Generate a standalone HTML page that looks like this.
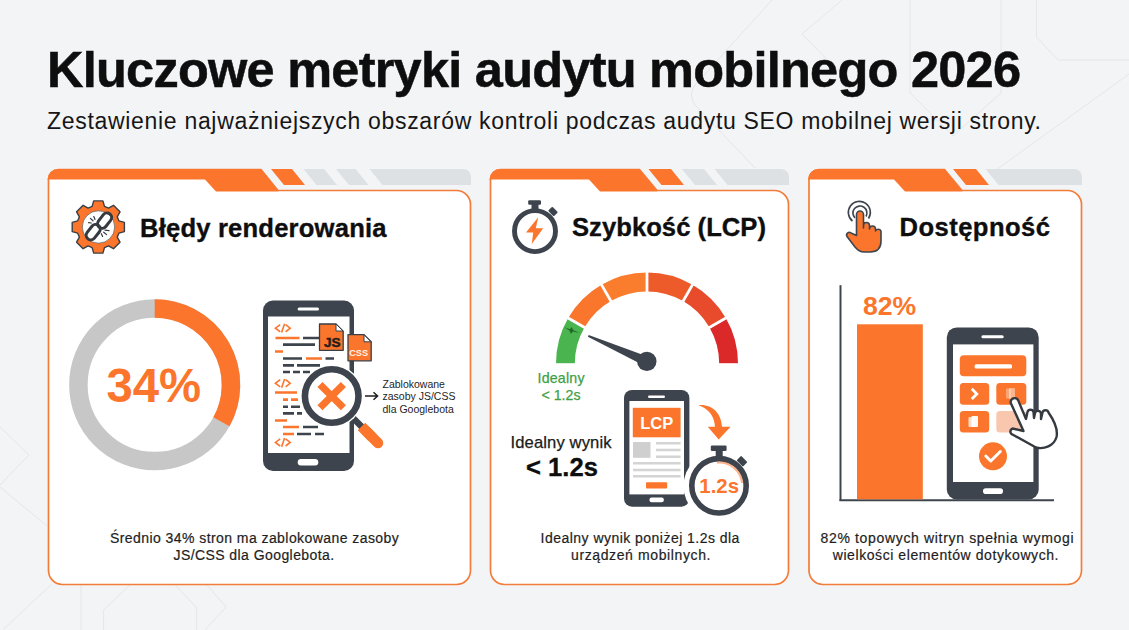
<!DOCTYPE html>
<html><head><meta charset="utf-8"><title>Kluczowe metryki audytu mobilnego 2026</title>
<style>
html,body{margin:0;padding:0;background:#f3f4f6;width:1129px;height:630px;overflow:hidden}
svg{display:block;font-family:"Liberation Sans",sans-serif}
</style></head><body>
<svg width="1129" height="630" viewBox="0 0 1129 630">
<rect width="1129" height="630" fill="#f3f4f6"/>
<!-- background faint lines -->
<g fill="none" stroke="#e4e6e9" stroke-width="1">
<path d="M772,0 L695,85 Q688,95 695,105 L755,168"/>
<path d="M842,0 L802,34 L860,93"/>
<path d="M910,0 V93 L953,136"/>
<path d="M1001,0 V93 L953,136"/>
<path d="M1036.5,0 V37 L1058,60 H1129"/>
<path d="M1129,74 L996,170"/>
<path d="M0,427 L29,455 L0,485"/>
<path d="M0,487 L47,526"/>
<path d="M2.7,630 L51.8,584"/>
<path d="M81,585 V630"/>
<path d="M103.6,630 V610 L130,585"/>
<path d="M175.4,585 L196.7,608 V630"/>
<path d="M207,585 L226,607 L205,630"/>
</g>

<!-- Title -->
<text x="47" y="87.2" font-size="50.5" font-weight="700" fill="#0e0e0e" textLength="974" lengthAdjust="spacing" stroke="#0e0e0e" stroke-width="0.5">Kluczowe metryki audytu mobilnego 2026</text>
<text x="47" y="128.7" font-size="23" fill="#161616" textLength="994" lengthAdjust="spacing">Zestawienie najważniejszych obszarów kontroli podczas audytu SEO mobilnej wersji strony.</text>

<!-- ============ CARD 1 ============ -->
<g>
<path d="M48.5,179 A10,10 0 0 1 58.5,169.5 H261 L278,190.5 H456.5 A14,14 0 0 1 470.5,204.5 V570.5 A14,14 0 0 1 456.5,584.5 H62.5 A14,14 0 0 1 48.5,570.5 Z" fill="#ffffff" stroke="#f27d3a" stroke-width="1.7"/>
<path d="M47.5,179.5 A10.5,10.5 0 0 1 58,169 H261 L278.5,191.5 H216 L205,179.5 Z" fill="#fb762c"/>
<path d="M271,169 H292 L305,185 H284 Z" fill="#fb762c"/>
<path d="M303.5,169 H324 L337,185 H316.5 Z" fill="#dde1e4"/>
<path d="M336,169 H355.5 L368.5,185 H349 Z" fill="#dde1e4"/>
<path d="M369.5,169 H463 A8,8 0 0 1 471,177 V185 H382.5 Z" fill="#dde1e4"/>

<!-- gear icon -->
<path d="M92.1,206.4 L93.7,200.9 L102.9,200.9 L104.5,206.4 L108.5,208.1 L113.5,205.3 L120.0,211.8 L117.2,216.8 L118.9,220.8 L124.4,222.4 L124.4,231.6 L118.9,233.2 L117.2,237.2 L120.0,242.2 L113.5,248.7 L108.5,245.9 L104.5,247.6 L102.9,253.1 L93.7,253.1 L92.1,247.6 L88.1,245.9 L83.1,248.7 L76.6,242.2 L79.4,237.2 L77.7,233.2 L72.2,231.6 L72.2,222.4 L77.7,220.8 L79.4,216.8 L76.6,211.8 L83.1,205.3 L88.1,208.1Z" fill="#fb762c" stroke="#3a3f46" stroke-width="1.4" stroke-linejoin="round"/>
<circle cx="98.5" cy="227" r="16.2" fill="#ffffff" stroke="#3a3f46" stroke-width="0.6"/>
<g stroke="#353a41" fill="none" stroke-linecap="round">
<rect x="-8.5" y="-4.6" width="17" height="9.2" rx="4.6" transform="translate(104.6,220.6) rotate(-52)" stroke-width="3"/>
<rect x="-8.5" y="-4.6" width="17" height="9.2" rx="4.6" transform="translate(93.2,232.2) rotate(-52)" stroke-width="3"/>
<path d="M88.5,222.6 L91.3,223 M90.4,218.4 L93,220.8 M93.8,216.5 L95,219.4" stroke-width="1.2"/>
<path d="M105,230.2 L109,230.6 M103.7,232.2 L106.6,234.6 M101.3,233.7 L102.6,236.5" stroke-width="1.2"/>
</g>
<text x="140" y="236.6" font-size="25.6" font-weight="700" fill="#0e0e0e" textLength="246.5" lengthAdjust="spacing" stroke="#0e0e0e" stroke-width="0.35">Błędy renderowania</text>

<!-- donut -->
<circle cx="154.7" cy="384.8" r="76.3" fill="none" stroke="#c7c7c7" stroke-width="18.5"/>
<path d="M154.7,308.5 A76.3,76.3 0 0 1 221.4,421.8" fill="none" stroke="#fb762c" stroke-width="18.5"/>
<text x="106.5" y="401.6" font-size="47.3" font-weight="700" fill="#fb762c">34%</text>

<!-- phone 1 -->
<rect x="263" y="300.5" width="91" height="170.5" rx="10" fill="#3e444d"/>
<rect x="268" y="316.5" width="81.5" height="136.5" fill="#ffffff"/>
<rect x="297.6" y="307.4" width="21.4" height="3" rx="1.5" fill="#ffffff"/>
<rect x="297.7" y="459" width="20.6" height="6.5" rx="3.2" fill="#ffffff"/>
<path d="M280.2,324.6 L275.4,328.2 L280.2,331.8 M284.6,323.8 L281.6,332.6 M285.6,324.6 L290.2,328.2 L285.6,331.8 M280.2,379.7 L275.4,383.3 L280.2,386.9 M284.6,378.9 L281.6,387.7 M285.6,379.7 L290.2,383.3 L285.6,386.9 M280.2,438.8 L275.4,442.4 L280.2,446.0 M284.6,438.0 L281.6,446.8 M285.6,438.8 L290.2,442.4 L285.6,446.0" fill="none" stroke="#fb762c" stroke-width="1.6" stroke-linejoin="miter"/>
<g stroke-width="2.6" stroke-linecap="butt">
<path d="M275.5,338 H299.5 M283,351.5 H275 M306,358.5 H322 M275,392.5 H297 M283,399.6 H288 M291,399.6 H298 M275,420.5 H287 M283,427 H299 M283,434 H294" stroke="#fb762c"/>
<path d="M303,338 H320 M283,344.6 H315 M283,358.5 H302 M325.5,358.5 H334 M283,365.4 H294 M297,365.4 H320 M283,372 H290 M293,372 H300 M303,372 H310 M283,406.7 H288 M291,406.7 H300 M283,413.4 H294 M297,413.4 H302 M303,427 H318 M297,434 H311 M315,434 H324" stroke="#3e444d"/>
</g>
<!-- JS / CSS file icons -->
<path d="M319.5,324 H336 L343.2,331.2 V350.3 H319.5 Z" fill="#fb762c" stroke="#3a3f46" stroke-width="1.3" stroke-linejoin="round"/>
<path d="M336,324 L343,331 H336 Z" fill="#ffffff" stroke="#3a3f46" stroke-width="1" stroke-linejoin="round"/>
<text x="324" y="346.7" font-size="13.6" font-weight="700" fill="#2a1d18" stroke="#2a1d18" stroke-width="0.5">JS</text>
<path d="M348,334.6 H364 L371.2,341.8 V360.8 H348 Z" fill="#fb762c" stroke="#3a3f46" stroke-width="1.3" stroke-linejoin="round"/>
<path d="M364,334.8 L371,341.8 H364 Z" fill="#ffffff" stroke="#3a3f46" stroke-width="1" stroke-linejoin="round"/>
<text x="349.2" y="355.5" font-size="9.2" font-weight="700" fill="#fdf1e0">CSS</text>
<!-- magnifier -->
<line x1="350" y1="415" x2="363" y2="428" stroke="#3e444d" stroke-width="6.5"/>
<line x1="361.5" y1="426.5" x2="372" y2="437" stroke="#fb762c" stroke-width="10.5"/>
<line x1="366" y1="431" x2="378" y2="443" stroke="#fb762c" stroke-width="10.5" stroke-linecap="round"/>
<circle cx="331.7" cy="396" r="31.5" fill="#ffffff"/>
<circle cx="331.7" cy="396" r="26.8" fill="#ffffff" stroke="#3e444d" stroke-width="6.6"/>
<path d="M320,384.5 L343.4,407.8 M343.4,384.5 L320,407.8" stroke="#fb762c" stroke-width="7.2"/>
<!-- arrow + label -->
<path d="M365,396 H377.5 M373.5,392.3 L377.6,396 L373.5,399.7" stroke="#1e1e1e" stroke-width="1.5" fill="none"/>
<g font-size="10.5" fill="#1e1e1e">
<text x="382.5" y="387.5">Zablokowane</text>
<text x="382.5" y="400">zasoby JS/CSS</text>
<text x="382.5" y="412.5">dla Googlebota</text>
</g>
<g font-size="14" fill="#1e1e1e" stroke="#1e1e1e" stroke-width="0.2">
<text x="110" y="543.4" textLength="288.8" lengthAdjust="spacing">Średnio 34% stron ma zablokowane zasoby</text>
<text x="173.5" y="560" textLength="160.7" lengthAdjust="spacing">JS/CSS dla Googlebota.</text>
</g>
</g>

<!-- ============ CARD 2 ============ -->
<g>
<path d="M490.5,179 A10,10 0 0 1 500.5,169.5 H639.5 L657,190.5 H774.5 A14,14 0 0 1 788.5,204.5 V570.5 A14,14 0 0 1 774.5,584.5 H504.5 A14,14 0 0 1 490.5,570.5 Z" fill="#ffffff" stroke="#f27d3a" stroke-width="1.7"/>
<path d="M489.5,179.5 A10.5,10.5 0 0 1 500,169 H639.5 L657.5,191.5 H600 L589,179.5 Z" fill="#fb762c"/>
<path d="M648.5,169 H671 L684,185 H661.5 Z" fill="#fb762c"/>
<path d="M682,169 H704 L717,185 H695 Z" fill="#dde1e4"/>
<path d="M714.5,169 H781 A8,8 0 0 1 789,177 V185 H727.5 Z" fill="#dde1e4"/>

<!-- stopwatch icon -->
<rect x="528.2" y="200.2" width="12.8" height="4.6" rx="1.2" fill="#3e444d"/>
<rect x="531.5" y="204" width="7" height="6" fill="#3e444d"/>
<rect x="549" y="208.5" width="8" height="6" rx="1" fill="#3e444d" transform="rotate(45 553 211.5)"/>
<circle cx="535" cy="231.1" r="20.5" fill="none" stroke="#3e444d" stroke-width="4.9"/>
<path d="M538.2,217.2 L526,232.5 H533.2 L531.8,244 L543.2,228.3 H535.8 Z" fill="#fb762c"/>
<text x="572" y="236" font-size="25.6" font-weight="700" fill="#0e0e0e" textLength="194" lengthAdjust="spacing" stroke="#0e0e0e" stroke-width="0.35">Szybkość (LCP)</text>

<!-- gauge -->
<g fill="none" stroke-width="18.8">
<path d="M565.40,363.60 A81.6,81.6 0 0 1 576.33,322.80" stroke="#4ab54e"/>
<path d="M576.33,322.80 A81.6,81.6 0 0 1 606.20,292.93" stroke="#f9762c"/>
<path d="M606.20,292.93 A81.6,81.6 0 0 1 647.00,282.00" stroke="#fa7d2d"/>
<path d="M647.00,282.00 A81.6,81.6 0 0 1 687.80,292.93" stroke="#ee5b2a"/>
<path d="M687.80,292.93 A81.6,81.6 0 0 1 717.67,322.80" stroke="#e84a2c"/>
<path d="M717.67,322.80 A81.6,81.6 0 0 1 728.60,363.60" stroke="#db2828"/>
</g>
<g stroke="#ffffff" stroke-width="2.8">
<line x1="585.86" y1="328.30" x2="566.81" y2="317.30"/>
<line x1="611.70" y1="302.46" x2="600.70" y2="283.41"/>
<line x1="647.00" y1="293.00" x2="647.00" y2="271.00"/>
<line x1="682.30" y1="302.46" x2="693.30" y2="283.41"/>
<line x1="708.14" y1="328.30" x2="727.19" y2="317.30"/>
</g>
<rect x="550" y="363.4" width="200" height="4" fill="#ffffff"/>
<path d="M564.5,327.3 L570,329.3 L571.5,327 L573.5,330.3 L579.5,333 L572.8,331.6 L571,334 L569.3,330.6 Z" fill="#1f6a2b"/>
<path d="M588.70,334.88 L648.76,356.91 L644.84,365.89 L587.90,336.72 Z" fill="#3e444d"/>
<circle cx="646.8" cy="361.4" r="9.7" fill="#3e444d"/>
<g font-size="14.2" fill="#3f9f45" stroke="#3f9f45" stroke-width="0.25">
<text x="537.5" y="383" textLength="47" lengthAdjust="spacing">Idealny</text>
<text x="541.5" y="400.2" textLength="39" lengthAdjust="spacing">&lt; 1.2s</text>
</g>
<text x="510.5" y="447.7" font-size="16.6" fill="#1a1a1a" stroke="#1a1a1a" stroke-width="0.25" textLength="101" lengthAdjust="spacing">Idealny wynik</text>
<text x="526" y="475.6" font-size="25.6" font-weight="700" fill="#0e0e0e" stroke="#0e0e0e" stroke-width="0.3">&lt; 1.2s</text>

<!-- phone 2 -->
<rect x="624" y="390" width="65.4" height="116.7" rx="8" fill="#3e444d"/>
<rect x="629.4" y="401" width="54.6" height="93.4" fill="#ffffff"/>
<rect x="648" y="395.5" width="17" height="2.6" rx="1.3" fill="#ffffff"/>
<rect x="649.4" y="497.6" width="14.5" height="4.6" rx="2.3" fill="#ffffff"/>
<rect x="632.8" y="407.8" width="47.8" height="29.5" fill="#fb762c"/>
<text x="656.7" y="429" font-size="16.5" font-weight="700" fill="#ffffff" text-anchor="middle">LCP</text>
<rect x="633" y="442" width="17.5" height="15.8" fill="#cfcfcf"/>
<g stroke="#d4d4d4" stroke-width="2.6">
<path d="M656,443.3 H680.6 M656,450 H680.6 M656,456.7 H680.6 M633,463.3 H680.6 M633,470 H680.6 M633,476.3 H680.6"/>
</g>
<rect x="646" y="482.2" width="21.2" height="6.2" rx="1" fill="#fb762c"/>
<!-- curved arrow -->
<path d="M698.5,405.2 C712,404 721.5,413 722,427.5 L715,427.5 C714.5,416 709,409 698.5,405.2 Z" fill="#fb762c"/>
<path d="M707.8,426.7 H730.6 L718.7,439.6 Z" fill="#fb762c"/>
<!-- stopwatch 2 -->
<circle cx="719" cy="486" r="35.5" fill="#ffffff"/>
<rect x="710.8" y="445.6" width="15.8" height="5.4" rx="1.2" fill="#3e444d"/>
<rect x="715.7" y="450" width="7" height="8" fill="#3e444d"/>
<rect x="737.5" y="458" width="9" height="6.5" rx="1" fill="#3e444d" transform="rotate(45 742 461.25)"/>
<circle cx="719" cy="485.8" r="27.2" fill="#ffffff" stroke="#3e444d" stroke-width="5.6"/>
<path d="M717,462.6 A23.2,23.2 0 0 1 742.2,483" fill="none" stroke="#fb762c" stroke-width="2.2" opacity="0.55"/>
<text x="719.2" y="492.6" font-size="20.4" font-weight="700" fill="#fb762c" text-anchor="middle">1.2s</text>

<g font-size="14" fill="#1e1e1e" stroke="#1e1e1e" stroke-width="0.2">
<text x="540.6" y="543.4" textLength="198.8" lengthAdjust="spacing">Idealny wynik poniżej 1.2s dla</text>
<text x="571" y="560" textLength="139.5" lengthAdjust="spacing">urządzeń mobilnych.</text>
</g>
</g>

<!-- ============ CARD 3 ============ -->
<g>
<path d="M809,179 A10,10 0 0 1 819,169.5 H944.5 L962,190.5 H1067.5 A14,14 0 0 1 1081.5,204.5 V570.5 A14,14 0 0 1 1067.5,584.5 H823 A14,14 0 0 1 809,570.5 Z" fill="#ffffff" stroke="#f27d3a" stroke-width="1.7"/>
<path d="M808,179.5 A10.5,10.5 0 0 1 818.5,169 H944.5 L962.5,191.5 H905 L894,179.5 Z" fill="#fb762c"/>
<path d="M953,169 H976 L989,185 H966 Z" fill="#fb762c"/>
<path d="M985.5,169 H1074 A8,8 0 0 1 1082,177 V185 H998.5 Z" fill="#dde1e4"/>

<!-- hand icon -->
<g fill="none" stroke="#3e444d" stroke-width="1.6">
<path d="M852.5,221 A11,11 0 1 1 868.5,218.5"/>
<path d="M855,218 A7,7 0 1 1 866,216.5"/>
</g>
<path d="M856.5,235.5 V214.5 A3.5,3.5 0 0 1 863.5,214.5 V228 V225.5 A3,3 0 0 1 869.5,225.5 V229 A3,3 0 0 1 875.5,229 V231 A3,3 0 0 1 881,231 V241 C881,248 877,252 870,252 H864 C860,252 857.5,250 855,247 L847,236.5 C845.5,234 848.5,231 851,233 Z" fill="#fb762c" stroke="#3e444d" stroke-width="1.6" stroke-linejoin="round"/>
<text x="899.5" y="236.4" font-size="25.6" font-weight="700" fill="#0e0e0e" textLength="150.5" lengthAdjust="spacing" stroke="#0e0e0e" stroke-width="0.35">Dostępność</text>

<!-- chart -->
<line x1="840.5" y1="285.2" x2="840.5" y2="501" stroke="#3e444d" stroke-width="2"/>
<line x1="839.5" y1="500.3" x2="1054" y2="500.3" stroke="#3e444d" stroke-width="2"/>
<rect x="857" y="324.3" width="65.8" height="175" fill="#fb762c"/>
<text x="889.5" y="314.8" font-size="26.6" font-weight="700" fill="#fb762c" text-anchor="middle">82%</text>

<!-- phone 3 -->
<rect x="946.8" y="327.4" width="91.9" height="172" rx="10" fill="#3e444d"/>
<rect x="953" y="344.4" width="80.4" height="137.6" fill="#ffffff"/>
<rect x="981.4" y="335.3" width="22.3" height="3" rx="1.5" fill="#ffffff"/>
<rect x="983" y="488.3" width="20" height="5.7" rx="2.8" fill="#ffffff"/>
<rect x="959.8" y="355.2" width="66.5" height="21.1" rx="4" fill="#fb762c"/>
<rect x="974.6" y="364.2" width="37.4" height="4.2" rx="1.5" fill="#ffffff"/>
<rect x="959.8" y="383" width="29.4" height="21.8" rx="3.5" fill="#fb762c"/>
<rect x="996.3" y="383" width="30" height="21.8" rx="3.5" fill="#fb762c"/>
<rect x="959.8" y="411" width="29.4" height="21.6" rx="3.5" fill="#fb762c"/>
<rect x="996.3" y="411" width="30" height="21.6" rx="3.5" fill="#f9c7ae"/>
<path d="M971.8,388.8 L976.8,393.9 L971.8,399" fill="none" stroke="#ffffff" stroke-width="2.8"/>
<rect x="968.5" y="417" width="6" height="10" rx="1" fill="#ffffff" opacity="0.75"/><rect x="971.5" y="416" width="6.5" height="11" rx="1" fill="#ffffff" opacity="0.95"/>
<rect x="1006" y="388.5" width="5" height="10" rx="1" fill="#ffffff" opacity="0.35"/><rect x="1009" y="388" width="6" height="11" rx="1" fill="#ffffff" opacity="0.45"/>
<circle cx="993" cy="456.3" r="14" fill="#fb762c"/>
<path d="M985.8,456 L990.8,461 L1000.3,451.5" fill="none" stroke="#ffffff" stroke-width="3" stroke-linecap="round" stroke-linejoin="round"/>
<!-- white hand cursor -->
<path d="M1023.5,431 L1011,403.5 A3.8,3.8 0 0 1 1018.3,400.6 L1026,419 L1027.5,412 A3.1,3.1 0 0 1 1033.5,412 L1034,418 L1035,413 A3.1,3.1 0 0 1 1041,413.5 L1041,419 L1042.5,412.5 A3.1,3.1 0 0 1 1048.5,412.5 C1053,419 1058.5,428 1056.5,437 C1054,446 1044,449.5 1036,447.5 L1012.5,434.5 A3.2,3.2 0 0 1 1012.5,428.5 Z" fill="#ffffff" stroke="#353a41" stroke-width="2.4" stroke-linejoin="round"/>

<g font-size="14" fill="#1e1e1e" stroke="#1e1e1e" stroke-width="0.2">
<text x="820.5" y="543.2" textLength="253" lengthAdjust="spacing">82% topowych witryn spełnia wymogi</text>
<text x="832.7" y="559.5" textLength="225.8" lengthAdjust="spacing">wielkości elementów dotykowych.</text>
</g>
</g>
</svg>
</body></html>
